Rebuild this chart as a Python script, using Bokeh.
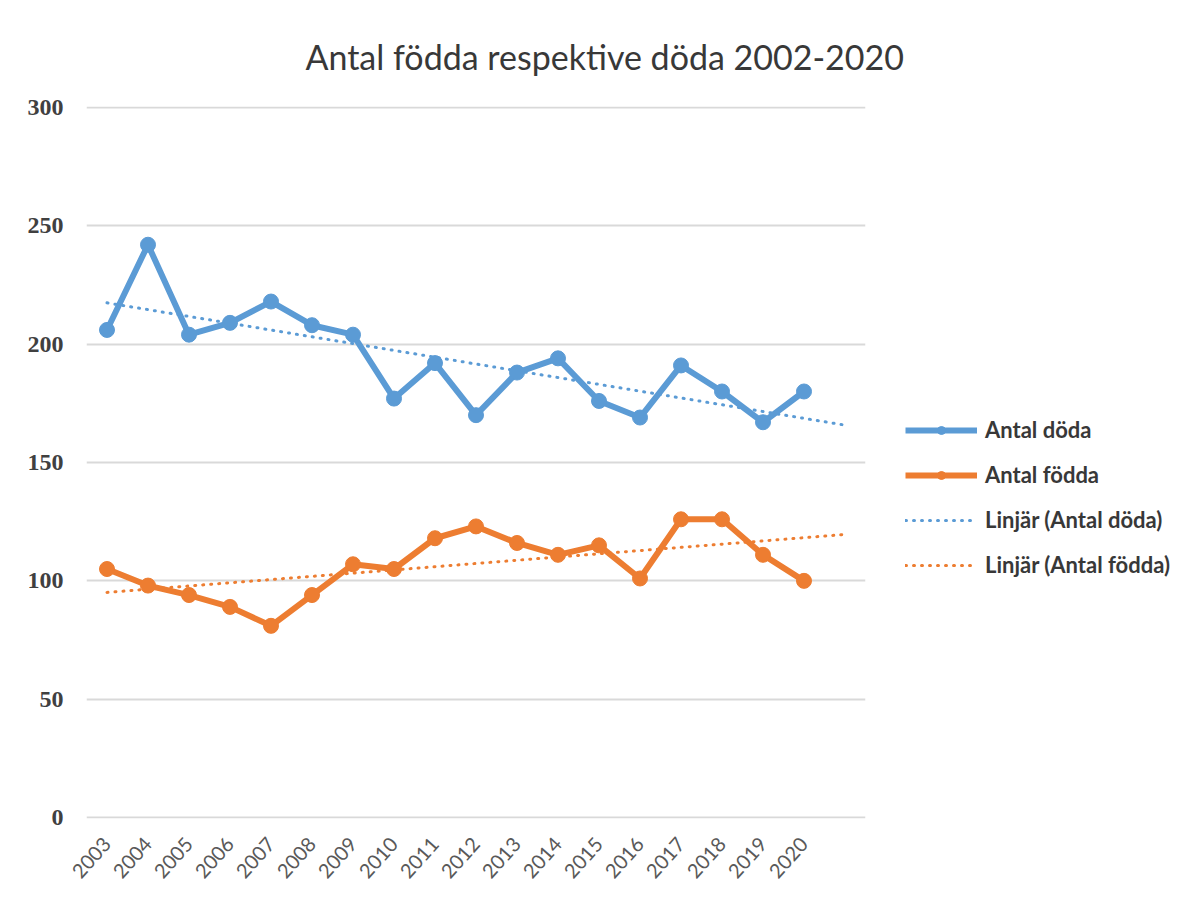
import numpy as np
from bokeh.plotting import figure
from bokeh.models import Range1d, FixedTicker, Legend, LegendItem
from bokeh.embed import file_html
from bokeh.resources import INLINE

years = ["2003", "2004", "2005", "2006", "2007", "2008", "2009", "2010", "2011",
         "2012", "2013", "2014", "2015", "2016", "2017", "2018", "2019", "2020"]
doda = [206, 242, 204, 209, 218, 208, 204, 177, 192, 170, 188, 194, 176, 169, 191, 180, 167, 180]
fodda = [105, 98, 94, 89, 81, 94, 107, 105, 118, 123, 116, 111, 115, 101, 126, 126, 111, 100]
y_ticks = [0, 50, 100, 150, 200, 250, 300]
title_text = "Antal födda respektive döda 2002-2020"

BLUE = "#5B9BD5"
ORANGE = "#ED7D31"

n = len(years)
xs = [i + 0.5 for i in range(n)]

# linear trend lines (Excel-style, forecast forward one period)
idx = np.arange(n)
t_x = np.arange(n + 1) + 0.5
cd = np.polyfit(idx, doda, 1)
cf = np.polyfit(idx, fodda, 1)
trend_d = np.polyval(cd, np.arange(n + 1))
trend_f = np.polyval(cf, np.arange(n + 1))

p = figure(frame_width=779, frame_height=712, output_backend="svg", toolbar_location=None,
           x_range=Range1d(0, n + 1), y_range=Range1d(-0.4, 300.4),
           min_border_left=86, min_border_right=300, min_border_top=106, min_border_bottom=75)
p.outline_line_color = None

p.title.text = title_text
p.title.align = "left"
p.title.offset = 219
p.title.text_font = "Lato"
p.title.text_font_size = "34px"
p.title.text_font_style = "normal"
p.title.text_color = "#383838"
p.title.standoff = 60

# axes
p.xaxis.ticker = FixedTicker(ticks=xs)
p.xaxis.major_label_overrides = {x: y for x, y in zip(xs, years)}
p.xaxis.major_label_orientation = 0.84
p.xaxis.major_label_text_font = "Lato"
p.xaxis.major_label_text_font_size = "20px"
p.xaxis.major_label_text_color = "#595959"
p.xaxis.axis_line_color = None
p.xaxis.major_tick_line_color = None
p.xaxis.minor_tick_line_color = None
p.xaxis.major_tick_out = 0
p.xaxis.major_label_standoff = 22

p.yaxis.ticker = FixedTicker(ticks=y_ticks)
p.yaxis.major_label_text_font = "Liberation Serif"
p.yaxis.major_label_text_font_style = "bold"
p.yaxis.major_label_text_font_size = "24px"
p.yaxis.major_label_text_color = "#404040"
p.yaxis.axis_line_color = None
p.yaxis.major_tick_line_color = None
p.yaxis.minor_tick_line_color = None
p.yaxis.major_tick_out = 0
p.yaxis.major_label_standoff = 23

p.xgrid.grid_line_color = None
p.ygrid.ticker = FixedTicker(ticks=y_ticks)
p.ygrid.grid_line_color = "#D9D9D9"
p.ygrid.grid_line_width = 2

# trend lines
td = p.line(t_x, trend_d, line_color=BLUE, line_width=3, line_dash="1 7", line_cap="round")
tf = p.line(t_x, trend_f, line_color=ORANGE, line_width=3, line_dash="1 7", line_cap="round")

# series
ld = p.line(xs, doda, line_color=BLUE, line_width=6, line_join="round")
sd = p.scatter(xs, doda, size=15, fill_color=BLUE, line_color=BLUE)
lf = p.line(xs, fodda, line_color=ORANGE, line_width=6, line_join="round")
sf = p.scatter(xs, fodda, size=15, fill_color=ORANGE, line_color=ORANGE)

legend = Legend(items=[
    LegendItem(label="Antal döda", renderers=[ld, sd]),
    LegendItem(label="Antal födda", renderers=[lf, sf]),
    LegendItem(label="Linjär (Antal döda)", renderers=[td]),
    LegendItem(label="Linjär (Antal födda)", renderers=[tf]),
], location=(40, 240))
legend.border_line_color = None
legend.background_fill_alpha = 0
legend.margin = 30
legend.padding = 10
legend.glyph_width = 72
legend.glyph_height = 20
legend.label_height = 20
legend.spacing = 18
legend.label_standoff = 8
legend.label_text_font = "Lato"
legend.label_text_font_style = "bold"
legend.label_text_font_size = "22px"
legend.label_text_color = "#383838"
p.add_layout(legend, "right")

open("out.html", "w").write(file_html(p, INLINE))
